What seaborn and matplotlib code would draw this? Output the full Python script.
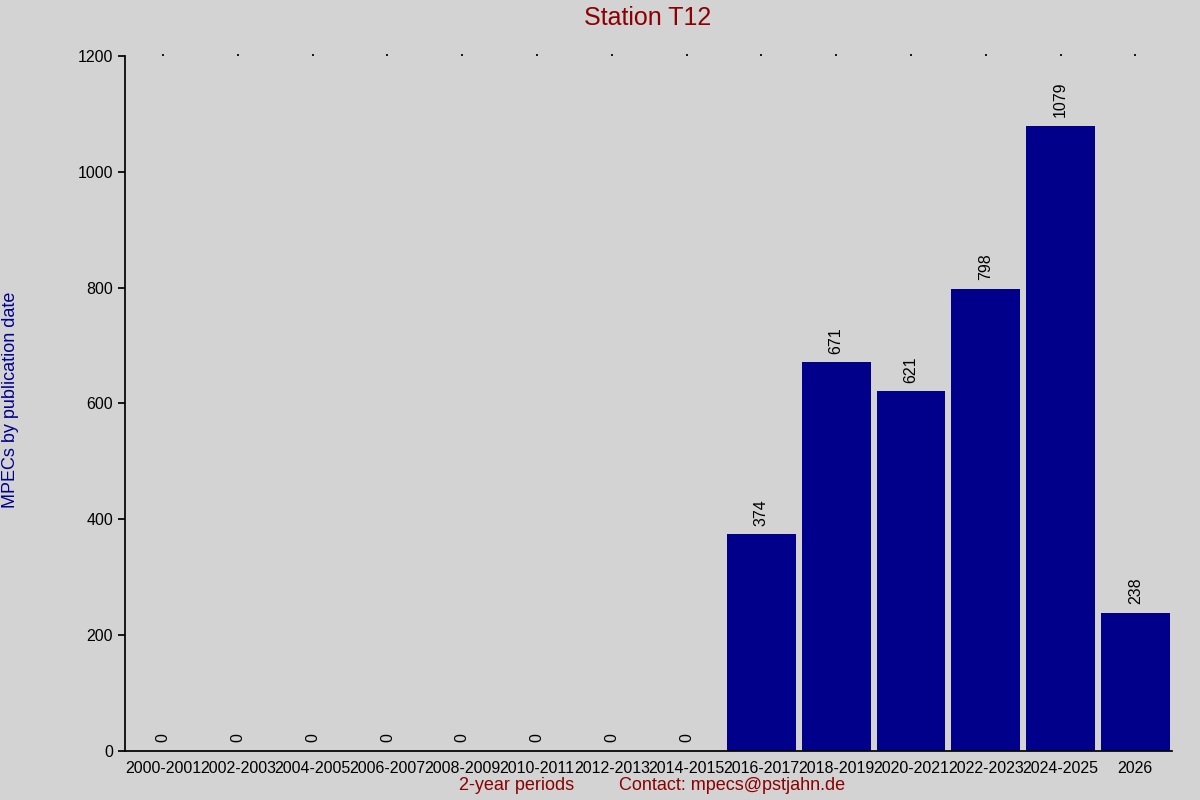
import matplotlib
matplotlib.use("Agg")
import matplotlib.pyplot as plt
import seaborn as sns
import pandas as pd

periods = ["2000-2001","2002-2003","2004-2005","2006-2007","2008-2009","2010-2011",
           "2012-2013","2014-2015","2016-2017","2018-2019","2020-2021","2022-2023",
           "2024-2025","2026"]
counts = [0,0,0,0,0,0,0,0,374,671,621,798,1079,238]
yticks = [0,200,400,600,800,1000,1200]

sns.set_theme(style="white")
plt.rcParams['font.family'] = ['Liberation Sans', 'DejaVu Sans']
bg = "#d3d3d3"
fig = plt.figure(figsize=(12, 8), dpi=100, facecolor=bg)
ax = fig.add_axes([125/1200, 1-751/800, (1172-125)/1200, (751-56)/800])
ax.set_facecolor(bg)
df = pd.DataFrame({"p": periods, "c": counts})
sns.barplot(data=df, x="p", y="c", color="#00008b", saturation=1, width=0.92,
            linewidth=0, ax=ax)
ax.set_xlim(-0.51, 13.49)
ax.set_ylim(0, 1200)
ax.set_yticks(yticks)
for i, v in enumerate(counts):
    ax.text(i, v + 15, str(v), rotation=90, ha="center", va="bottom", fontsize=11.5, color="black")
for s in ["top", "right"]:
    ax.spines[s].set_visible(False)
for s in ["left", "bottom"]:
    ax.spines[s].set_color("black")
ax.tick_params(axis="y", left=True, length=5, color="black", labelsize=11.5, labelcolor="black")
ax.tick_params(axis="x", bottom=False, top=True, length=1.5, color="black", labelsize=11.5, labelcolor="black", pad=6)
ax.set_xlabel("")
ax.set_ylabel("")
fig.text(0.54, 1-18/800, "Station T12", ha="center", va="center", fontsize=18, color="#8b0000")
fig.text(11/1200, 0.5, "MPECs by publication date", rotation=90, ha="center", va="center", fontsize=13, color="#00008b")
fig.text(517/1200, 1-786/800, "2-year periods", ha="center", va="center", fontsize=13, color="#8b0000")
fig.text(732/1200, 1-786/800, "Contact: mpecs@pstjahn.de", ha="center", va="center", fontsize=13, color="#8b0000")
fig.savefig("out.png", dpi=100, facecolor=bg)
